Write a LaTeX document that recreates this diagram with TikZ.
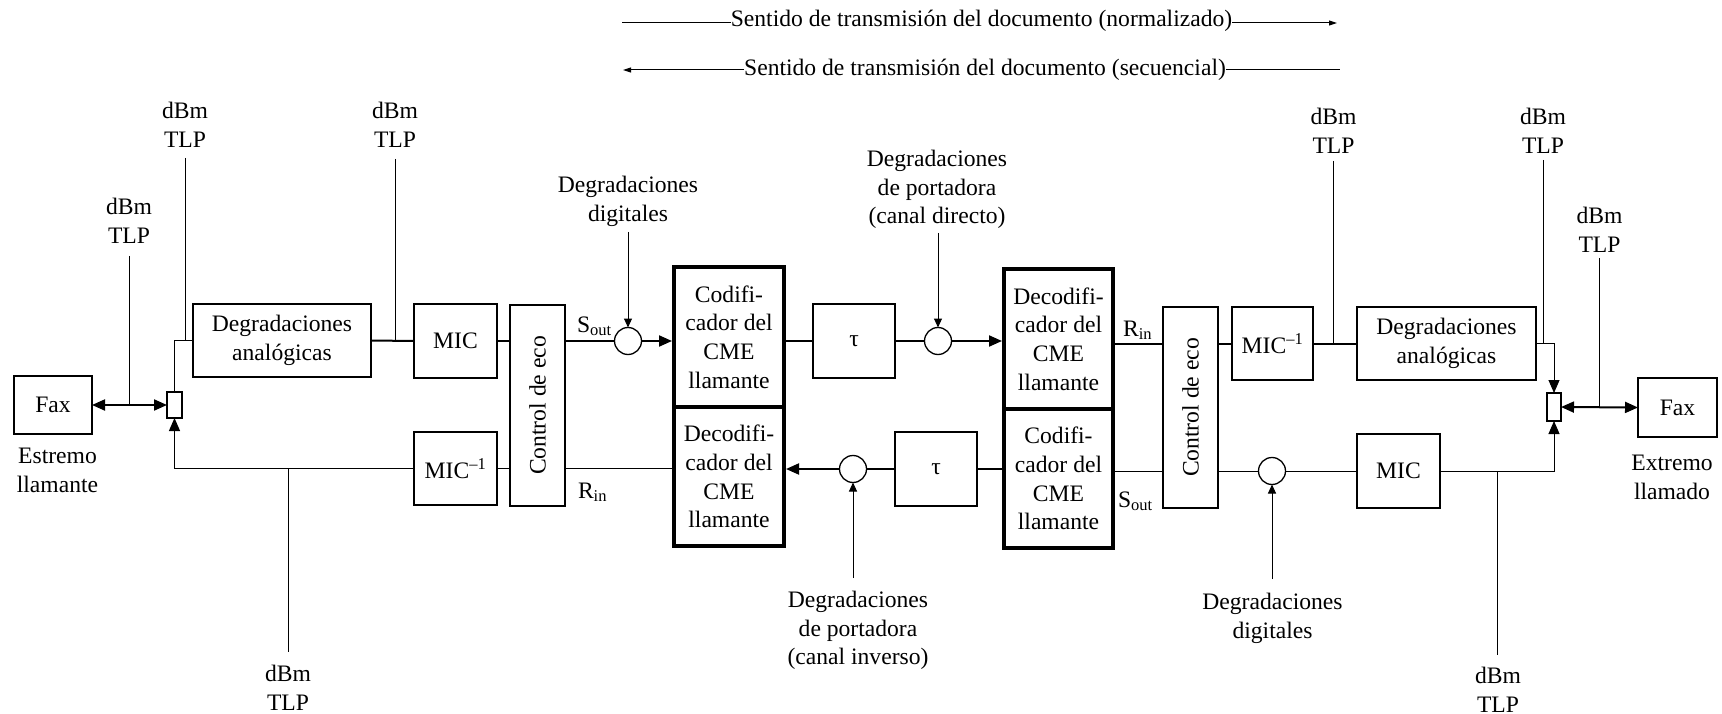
\documentclass[tikz,border=0pt]{standalone}
\usepackage{fontspec}
\setmainfont{Liberation Serif}
\usepackage{graphicx}
\usetikzlibrary{arrows.meta}

\begin{document}
\begin{tikzpicture}[x=1pt,y=-1pt,
  every node/.style={font=\fontsize{23.6}{28.7}\selectfont, inner sep=0pt, outer sep=0pt},
  box/.style={draw, line width=1.3pt, align=center},
  cme/.style={draw, line width=3.5pt, align=center},
  junc/.style={draw, line width=1.3pt},
  sumnode/.style={draw, circle, line width=1.3pt, minimum size=27pt},
  lbl/.style={align=center, anchor=north},
  wire/.style={line width=1pt},
  bus/.style={line width=2pt},
  bigtip/.style={-{Triangle[length=13pt,width=11pt]}},
  bothtips/.style={{Triangle[length=13pt,width=11pt]}-{Triangle[length=13pt,width=11pt]}},
  smalltip/.style={-{Triangle[length=9pt,width=8pt]}},
  toptip/.style={-{Triangle[length=8pt,width=5pt]}},
]
\useasboundingbox (0,0) rectangle (1722,714);

% direction of transmission
\node[anchor=base] (dirN) at (981.5,27) {Sentido de transmisión del documento (normalizado)};
\node[anchor=base] (dirS) at (985,76) {Sentido de transmisión del documento (secuencial)};
\coordinate (nA) at (622,23); \coordinate (nB) at (1337,23);
\coordinate (sA) at (623,70); \coordinate (sB) at (1340,70);
\draw[wire] (nA) -- (nA -| dirN.west);
\draw[wire, toptip] (nB -| dirN.east) -- (nB);
\draw[wire, toptip] (sA -| dirS.west) -- (sA);
\draw[wire] (sB -| dirS.east) -- (sB);

% calling side
\node[box, minimum width=78pt, minimum height=58pt] (faxL) at (53,405) {Fax};
\node[lbl] (estL) at (57.5,448) {Estremo\\llamante};
\node[junc, minimum width=15pt, minimum height=26pt] (jL) at (174.5,405) {};
\node[box, minimum width=178pt, minimum height=73pt] (degL) at (282,340.5) {Degradaciones\\analógicas};
\node[box, minimum width=83pt, minimum height=74pt] (micL) at (455.5,341) {MIC};
\node[box, minimum width=55pt, minimum height=201pt] (ecoL) at (537.5,405.5) {\rotatebox{90}{Control de eco}};
\node[box, minimum width=83pt, minimum height=73pt] (micinvL) at (455.5,468.5) {MIC\textsuperscript{–1}};
\node[sumnode] (sU1) at (628,341) {};
\node[anchor=base west] (soutL) at (577,332) {S\textsubscript{out}};
\node[anchor=base west] (rinL) at (578,498) {R\textsubscript{in}};

% CME pair, calling end
\node[cme, minimum width=110pt, minimum height=140pt] (codL) at (729,337) {Codifi-\\cador del\\CME\\llamante};
\node[cme, minimum width=110pt, minimum height=139pt] (decL) at (729,476.5) {Decodifi-\\cador del\\CME\\llamante};

% carrier
\node[box, minimum width=82pt, minimum height=74pt] (tauU) at (854,341) {τ};
\node[sumnode] (sU2) at (938,341) {};
\node[box, minimum width=82pt, minimum height=74pt] (tauL) at (936,469) {τ};
\node[sumnode] (sL1) at (853,469) {};

% CME pair, called end
\node[cme, minimum width=109pt, minimum height=140pt] (decR) at (1058.5,339) {Decodifi-\\cador del\\CME\\llamante};
\node[cme, minimum width=109pt, minimum height=139pt] (codR) at (1058.5,478.5) {Codifi-\\cador del\\CME\\llamante};
\node[anchor=base west] (rinR) at (1123,336) {R\textsubscript{in}};
\node[anchor=base west] (soutR) at (1118,507) {S\textsubscript{out}};

% called side
\node[box, minimum width=55pt, minimum height=201pt] (ecoR) at (1190.5,407.5) {\rotatebox{90}{Control de eco}};
\node[box, minimum width=81pt, minimum height=73pt] (micinvR) at (1272.5,343.5) {MIC\textsuperscript{–1}};
\node[box, minimum width=179pt, minimum height=73pt] (degR) at (1446.5,343.5) {Degradaciones\\analógicas};
\node[junc, minimum width=14pt, minimum height=28pt] (jR) at (1554,407) {};
\node[box, minimum width=79pt, minimum height=59pt] (faxR) at (1677.5,407.5) {Fax};
\node[lbl] (extR) at (1672,455) {Extremo\\llamado};
\node[sumnode] (sL2) at (1272,471) {};
\node[box, minimum width=83pt, minimum height=74pt] (micR) at (1398.5,471) {MIC};

% level labels
\node[lbl] (dbmA) at (129,198) {dBm\\TLP};
\node[lbl] (dbmB) at (185,102) {dBm\\TLP};
\node[lbl] (dbmC) at (395,102) {dBm\\TLP};
\node[lbl] (dbmD) at (288,665) {dBm\\TLP};
\node[lbl] (dbmE) at (1333.5,108) {dBm\\TLP};
\node[lbl] (dbmF) at (1543,108) {dBm\\TLP};
\node[lbl] (dbmG) at (1599.5,207) {dBm\\TLP};
\node[lbl] (dbmH) at (1498,667) {dBm\\TLP};
\coordinate (pA) at (129,256);
\coordinate (pB) at (185,158);
\coordinate (pC) at (395,159);
\coordinate (pD) at (288,652);
\coordinate (pE) at (1333.5,161);
\coordinate (pF) at (1543,160);
\coordinate (pG) at (1599.5,258);
\coordinate (pH) at (1497.7,655);

% impairment labels
\node[lbl] (digU) at (628,176) {Degradaciones\\digitales};
\node[lbl] (dirU) at (937,150) {Degradaciones\\de portadora\\(canal directo)};
\node[lbl] (invL) at (858,591) {Degradaciones\\de portadora\\(canal inverso)};
\node[lbl] (digL) at (1272.5,593) {Degradaciones\\digitales};
\coordinate (qDigU) at (628,232);
\coordinate (qDir) at (938,233);
\coordinate (qInv) at (853,578);
\coordinate (qDigL) at (1272,579);

% forward path
\draw[bus, bothtips] (faxL.east) -- (jL.west);
\draw[wire] (pA) -- (pA |- faxL.east);
\draw[wire] (jL.north) |- (degL.west);
\draw[wire] (pB) -- (pB |- degL.west);
\draw[bus] (degL.east) -- (micL.west);
\draw[wire] (pC) -- (pC |- micL.west);
\draw[bus] (micL.east) -- (micL.east -| ecoL.west);
\draw[bus] (micL.east -| ecoL.east) -- (sU1.west);
\draw[bus, bigtip, shorten >=2pt] (sU1.east) -- (sU1.east -| codL.west);
\draw[wire, smalltip] (qDigU) -- (sU1.north);
\draw[bus] (codL.east |- tauU.west) -- (tauU.west);
\draw[bus] (tauU.east) -- (sU2.west);
\draw[bus, bigtip, shorten >=2pt] (sU2.east) -- (sU2.east -| decR.west);
\draw[wire, smalltip] (qDir) -- (sU2.north);
\draw[bus] (decR.east |- micinvR.west) -- (micinvR.west -| ecoR.west);
\draw[bus] (micinvR.west -| ecoR.east) -- (micinvR.west);
\draw[bus] (micinvR.east) -- (degR.west);
\draw[wire] (pE) -- (pE |- degR.west);
\draw[wire, bigtip] (degR.east) -| (jR.north);
\draw[wire] (pF) -- (pF |- degR.east);
\draw[bus, bothtips] (jR.east) -- (faxR.west);
\draw[wire] (pG) -- (pG |- jR.east);

% return path
\draw[wire, bigtip] (micR.east) -| (jR.south);
\draw[wire] (pH |- micR.east) -- (pH);
\draw[wire] (sL2.east) -- (micR.west);
\draw[wire] (sL2.west -| ecoR.east) -- (sL2.west);
\draw[wire] (sL2.west -| codR.east) -- (sL2.west -| ecoR.west);
\draw[wire, smalltip] (qDigL) -- (sL2.south);
\draw[bus] (tauL.east -| codR.west) -- (tauL.east);
\draw[bus] (tauL.west) -- (sL1.east);
\draw[bus, bigtip, shorten >=2pt] (sL1.west) -- (sL1.west -| decL.east);
\draw[wire, smalltip] (qInv) -- (sL1.south);
\draw[wire] (micinvL.east -| decL.west) -- (micinvL.east -| ecoL.east);
\draw[wire] (micinvL.east -| ecoL.west) -- (micinvL.east);
\draw[wire, bigtip] (micinvL.west) -| (jL.south);
\draw[wire] (pD |- micinvL.west) -- (pD);
\end{tikzpicture}
\end{document}
